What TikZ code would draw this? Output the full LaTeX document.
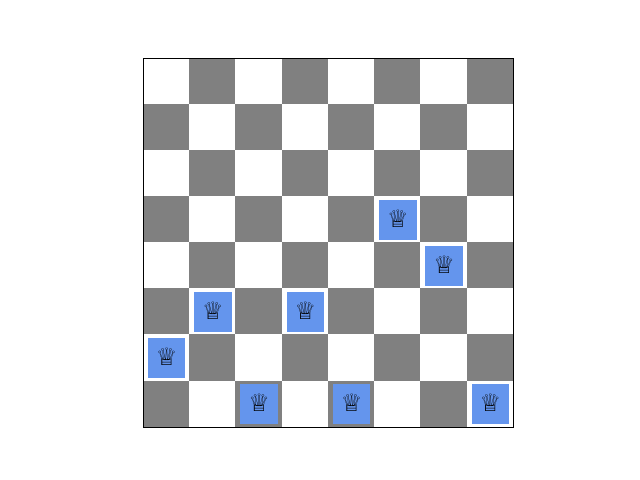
\documentclass[tikz,border=0pt]{standalone}
\usepackage{fontspec}
\newfontfamily\chessfont{DejaVu Sans}
\definecolor{queenblue}{HTML}{6495ED}
\newcommand{\queen}{\raisebox{2pt}{♕}}
\tikzset{
	queenbox/.style={fill=queenblue, inner sep=0pt, minimum width=28pt, minimum height=30pt, font=\chessfont\fontsize{18}{18}\selectfont, text=black},
}

\begin{document}
\begin{tikzpicture}[x=34.69pt, y=-34.594pt]
	%%%%% START %%%%%
	\useasboundingbox (-3.103, -1.264) rectangle (10.735, 9.1425);

	\begin{scope}[xshift=-0.4pt, yshift=0.4pt]
		\foreach \col in {0,...,7}
			\foreach \row in {0,...,7} {
				\pgfmathparse{int(mod(\col+\row,2))}
				\ifnum\pgfmathresult=1
					\fill[black!50] (\col, \row) rectangle (\col+1, \row+1);
				\fi
			}
	\end{scope}

	\node[queenbox] (q1) at (5.5, 3.5) {\queen};
	\node[queenbox] (q2) at (6.5, 4.5) {\queen};
	\node[queenbox] (q3) at (1.5, 5.5) {\queen};
	\node[queenbox] (q4) at (3.5, 5.5) {\queen};
	\node[queenbox] (q5) at (0.5, 6.5) {\queen};
	\node[queenbox] (q6) at (2.5, 7.5) {\queen};
	\node[queenbox] (q7) at (4.5, 7.5) {\queen};
	\node[queenbox] (q8) at (7.5, 7.5) {\queen};

	\draw[line width=0.8pt] (0, 0) rectangle (8, 8);
	%%%%% END %%%%%
\end{tikzpicture}
\end{document}
